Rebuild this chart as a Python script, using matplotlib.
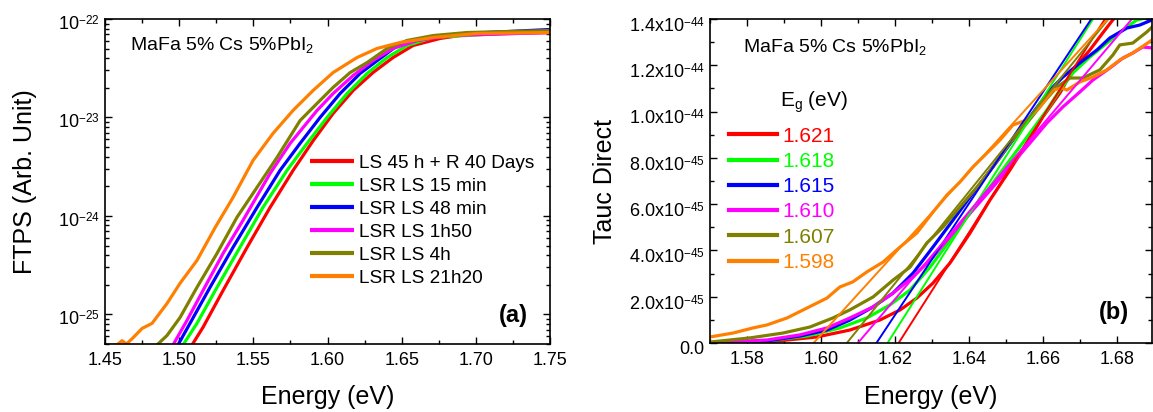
import numpy as np
import matplotlib
matplotlib.use("Agg")
import matplotlib.pyplot as plt
import matplotlib.transforms as mtransforms
from matplotlib.ticker import FuncFormatter, MultipleLocator, LogLocator, NullFormatter, FixedLocator

plt.rcParams['font.family'] = ['Liberation Sans', 'DejaVu Sans']
plt.rcParams['mathtext.fontset'] = 'custom'
plt.rcParams['mathtext.rm'] = 'Liberation Sans'
plt.rcParams['mathtext.it'] = 'Liberation Sans:italic'
plt.rcParams['mathtext.bf'] = 'Liberation Sans:bold'
try:  # smaller, lower superscripts (closer to the reference look)
    import matplotlib._mathtext as _mt
    _mt.FontConstantsBase.sup1 = 0.5
    _mt.SHRINK_FACTOR = 0.65
except Exception:
    pass

# ---------------- data: panel (a) FTPS ----------------
labels_a = ["LS 45 h + R 40 Days", "LSR LS 15 min", "LSR LS 48 min",
            "LSR LS 1h50", "LSR LS 4h", "LSR LS 21h20"]
colors = ["#FF0000", "#00FF00", "#0000FF", "#FF00FF", "#808000", "#FF8000"]

e_red_a = [1.5087, 1.5161, 1.5296, 1.5458, 1.5613, 1.5768, 1.5903, 1.6038, 1.6173,
           1.6307, 1.6442, 1.6577, 1.6759, 1.6941, 1.75]
ftps_red = [4.9e-26, 7.4e-26, 1.75e-25, 4.8e-25, 1.22e-24, 2.9e-24, 5.8e-24, 1.10e-23,
            1.88e-23, 2.86e-23, 4.06e-23, 5.38e-23, 6.34e-23, 6.97e-23, 7.29e-23]

e_green_a = [1.5026, 1.512, 1.5255, 1.541, 1.5565, 1.5727, 1.5862, 1.5997, 1.6132,
             1.6267, 1.6402, 1.6536, 1.6712, 1.75]
ftps_green = [4.9e-26, 8.1e-26, 1.88e-25, 4.8e-25, 1.22e-24, 2.9e-24, 5.45e-24, 1.0e-23,
              1.75e-23, 2.8e-23, 4.06e-23, 5.38e-23, 6.49e-23, 7.64e-23]

e_blue_a = [1.4992, 1.5073, 1.5208, 1.5363, 1.5525, 1.568, 1.5815, 1.595, 1.6085,
            1.622, 1.6354, 1.6489, 1.6712, 1.6941, 1.75]
ftps_blue = [4.9e-26, 8.1e-26, 1.88e-25, 4.79e-25, 1.22e-24, 2.9e-24, 5.45e-24, 1.0e-23,
             1.75e-23, 2.8e-23, 3.97e-23, 5.64e-23, 6.49e-23, 7.13e-23, 7.82e-23]

e_magenta_a = [1.4959, 1.5053, 1.5161, 1.5296, 1.543, 1.5613, 1.5748, 1.593, 1.6038,
               1.6173, 1.6307, 1.6442, 1.6604, 1.6826, 1.75]
ftps_magenta = [4.9e-26, 8.7e-26, 1.75e-25, 4.16e-25, 9.0e-25, 2.7e-24, 5.45e-24, 1.18e-23,
                1.75e-23, 2.67e-23, 3.79e-23, 5.02e-23, 6.05e-23, 6.79e-23, 7.29e-23]

e_olive_a = [1.4851, 1.4918, 1.5006, 1.512, 1.5255, 1.539, 1.5525, 1.566, 1.5815, 1.593,
             1.6038, 1.6153, 1.6267, 1.6402, 1.6536, 1.6712, 1.6941, 1.75]
ftps_olive = [4.9e-26, 6.1e-26, 9.3e-26, 1.88e-25, 4.16e-25, 9.7e-25, 1.95e-24, 3.93e-24,
              9.3e-24, 1.39e-23, 2.02e-23, 2.86e-23, 3.61e-23, 5.02e-23, 6.05e-23, 6.79e-23,
              7.29e-23, 7.64e-23]

e_orange_a = [1.45, 1.458, 1.4615, 1.4645, 1.469, 1.475, 1.4817, 1.4918, 1.5006, 1.512,
              1.5242, 1.5363, 1.5498, 1.5633, 1.5768, 1.5903, 1.6038, 1.6199, 1.6334,
              1.6489, 1.6712, 1.7008, 1.75]
ftps_orange = [4.9e-26, 4.9e-26, 5.4e-26, 5.0e-26, 5.8e-26, 7.2e-26, 8.1e-26, 1.29e-25,
               2.07e-25, 3.53e-25, 7.6e-25, 1.54e-24, 3.66e-24, 6.9e-24, 1.18e-23, 1.88e-23,
               2.86e-23, 4.06e-23, 5.02e-23, 5.77e-23, 6.49e-23, 7.13e-23, 7.29e-23]

energies_a = [e_red_a, e_green_a, e_blue_a, e_magenta_a, e_olive_a, e_orange_a]
ftps_all = [ftps_red, ftps_green, ftps_blue, ftps_magenta, ftps_olive, ftps_orange]
ftps_ticks = [1e-25, 1e-24, 1e-23, 1e-22]

# ---------------- data: panel (b) Tauc (values in units of 1e-45) ----------------
eg_labels = ["1.621", "1.618", "1.615", "1.610", "1.607", "1.598"]
eg_values = [1.621, 1.618, 1.615, 1.610, 1.607, 1.598]
fit_slopes = [251, 252, 241, 189, 198, 176]   # 1e-45 per eV

e_red_b = [1.57, 1.5854, 1.5989, 1.6078, 1.6159, 1.6214, 1.6259, 1.6303, 1.6349, 1.6403,
           1.6457, 1.6511, 1.6557, 1.66, 1.6646, 1.6681, 1.6727, 1.6762, 1.6789, 1.683]
tauc_red = [0, 0.04, 0.26, 0.56, 0.99, 1.43, 1.94, 2.59, 3.46, 4.75, 6.18, 7.48, 8.64,
            9.77, 10.80, 11.80, 12.66, 13.40, 13.96, 14.6]

e_green_b = [1.57, 1.5854, 1.5962, 1.6051, 1.6124, 1.6186, 1.6241, 1.6295, 1.6349, 1.6403,
             1.6457, 1.6511, 1.6565, 1.6611, 1.6646, 1.6681, 1.6727, 1.6773, 1.6816,
             1.6854, 1.6895]
tauc_green = [0, 0.09, 0.30, 0.65, 1.08, 1.64, 2.29, 3.28, 4.45, 5.62, 6.74, 7.91, 9.07,
              10.07, 10.93, 11.67, 12.36, 12.96, 13.52, 13.96, 14.1]

e_blue_b = [1.57, 1.5854, 1.5943, 1.6016, 1.6078, 1.6141, 1.6195, 1.6249, 1.6303, 1.6357,
            1.6411, 1.6465, 1.6519, 1.6573, 1.6619, 1.6654, 1.67, 1.6746, 1.6781, 1.6827,
            1.6862, 1.6895]
tauc_blue = [0, 0.09, 0.30, 0.56, 0.99, 1.56, 2.16, 3.02, 4.15, 5.31, 6.48, 7.61, 8.77,
             9.94, 10.93, 11.49, 12.10, 12.66, 13.18, 13.61, 13.74, 13.96]

e_magenta_b = [1.57, 1.5854, 1.5943, 1.6016, 1.6078, 1.6141, 1.6195, 1.6249, 1.6303,
               1.6357, 1.6411, 1.6465, 1.6519, 1.6565, 1.6611, 1.6654, 1.67, 1.6735,
               1.6781, 1.6816, 1.6843, 1.687, 1.6895]
tauc_magenta = [0, 0.13, 0.35, 0.65, 1.08, 1.56, 2.16, 2.85, 3.72, 4.75, 5.75, 6.74, 7.78,
                8.64, 9.51, 10.20, 10.85, 11.36, 11.88, 12.31, 12.53, 12.79, 12.75]

e_olive_b = [1.57, 1.5808, 1.5897, 1.597, 1.6032, 1.6078, 1.6141, 1.6195, 1.6241, 1.6286,
             1.633, 1.6376, 1.6422, 1.6465, 1.6511, 1.6557, 1.66, 1.6638, 1.6673, 1.6708,
             1.6754, 1.6789, 1.6808, 1.6843, 1.6881, 1.6895]
tauc_olive = [0.04, 0.22, 0.43, 0.69, 1.08, 1.43, 1.99, 2.72, 3.28, 4.32, 5.01, 5.88, 6.74,
              7.61, 8.64, 9.51, 10.37, 11.06, 11.45, 11.45, 11.80, 12.44, 12.88, 12.96,
              13.44, 13.65]

e_orange_b = [1.57, 1.5762, 1.5816, 1.5854, 1.5908, 1.5962, 1.6016, 1.6051, 1.6086, 1.6124,
              1.6168, 1.6214, 1.6259, 1.6303, 1.6341, 1.6376, 1.6411, 1.6449, 1.6484,
              1.6519, 1.6557, 1.6592, 1.6627, 1.6651, 1.6665, 1.67, 1.6735, 1.6773,
              1.6808, 1.6843, 1.6895]
tauc_orange = [0.26, 0.43, 0.65, 0.78, 1.08, 1.51, 1.94, 2.42, 2.64, 3.07, 3.50, 4.15, 4.75,
               5.66, 6.40, 6.96, 7.61, 8.21, 8.77, 9.42, 9.64, 10.20, 10.93, 11.02, 10.93,
               11.28, 11.49, 11.80, 12.23, 12.53, 13.09]

energies_b = [e_red_b, e_green_b, e_blue_b, e_magenta_b, e_olive_b, e_orange_b]
tauc_all = [tauc_red, tauc_green, tauc_blue, tauc_magenta, tauc_olive, tauc_orange]
TAUC_UNIT = 1e-45

# ---------------- figure ----------------
W, H = 1153, 412
fig = plt.figure(figsize=(W / 100, H / 100), dpi=100)
ax1 = fig.add_axes([105 / W, (H - 344) / H, 445 / W, 325 / H])
ax2 = fig.add_axes([710 / W, (H - 343) / H, 442 / W, 324 / H])

TICK_FS = 13
LABEL_FS = 18

# ---- panel (a) ----
for e, v, c, lab in zip(energies_a, ftps_all, colors, labels_a):
    ax1.plot(e, v, color=c, lw=2.3, label=lab, solid_capstyle='butt')
ax1.set_yscale('log')
ax1.set_xlim(1.45, 1.75)
ax1.set_ylim(5e-26, 1e-22)
ax1.xaxis.set_major_locator(MultipleLocator(0.05))
ax1.xaxis.set_minor_locator(MultipleLocator(0.025))
ax1.xaxis.set_major_formatter(FuncFormatter(lambda x, p: f"{x:.2f}"))
ax1.yaxis.set_major_locator(FixedLocator(ftps_ticks))
ax1.yaxis.set_minor_locator(LogLocator(base=10, subs=np.arange(2, 10), numticks=20))
ax1.yaxis.set_minor_formatter(NullFormatter())
ax1.yaxis.set_major_formatter(FuncFormatter(
    lambda y, p: r"$\mathregular{10^{%d}}$" % int(round(np.log10(y)))))
ax1.set_xlabel("Energy (eV)", fontsize=LABEL_FS, va='center')
ax1.xaxis.set_label_coords(0.5, (344 - 397) / 325)
ax1.set_ylabel("FTPS (Arb. Unit)", fontsize=LABEL_FS, va='center')
ax1.yaxis.set_label_coords((25 - 105) / 445, 0.5)
leg1 = ax1.legend(loc='upper left', bbox_to_anchor=(0.461, 0.584), frameon=False,
                  fontsize=13.7, handlelength=2.3, handletextpad=0.28,
                  labelspacing=0.3, borderpad=0, borderaxespad=0)
for line in leg1.get_lines():
    line.set_linewidth(3)
ax1.text(0.056, 0.92, r"MaFa 5% Cs 5%PbI$_\mathregular{2}$", transform=ax1.transAxes,
         fontsize=14, va='center', ha='left')
ax1.text(0.917, 0.089, "(a)", transform=ax1.transAxes, fontsize=17,
         fontweight='bold', ha='center', va='center')

# ---- panel (b) ----
curve_handles = []
for e, v, c in zip(energies_b, tauc_all, colors):
    h, = ax2.plot(e, np.array(v) * TAUC_UNIT, color=c, lw=2.3)
    curve_handles.append(h)
for eg, s, c in zip(eg_values, fit_slopes, colors):
    e_end = eg + 14.6 / s
    ax2.plot([eg, e_end], [0, s * (e_end - eg) * TAUC_UNIT], color=c, lw=1.4)
ax2.set_xlim(1.57, 1.6895)
ax2.set_ylim(0, 1.4e-44)
ax2.xaxis.set_major_locator(MultipleLocator(0.02))
ax2.xaxis.set_minor_locator(MultipleLocator(0.01))
ax2.xaxis.set_major_formatter(FuncFormatter(lambda x, p: f"{x:.2f}"))
ax2.yaxis.set_major_locator(MultipleLocator(2e-45))
ax2.yaxis.set_minor_locator(MultipleLocator(1e-45))


def tauc_fmt(y, p):
    if abs(y) < 1e-50:
        return "0.0"
    ex = int(np.floor(np.log10(abs(y)) + 1e-9))
    m = y / 10 ** ex
    return r"$\mathregular{%.1fx10^{%d}}$" % (m, ex)


ax2.yaxis.set_major_formatter(FuncFormatter(tauc_fmt))
ax2.set_xlabel("Energy (eV)", fontsize=LABEL_FS, va='center')
ax2.xaxis.set_label_coords(0.5, (343 - 397) / 324)
ax2.set_ylabel("Tauc Direct", fontsize=LABEL_FS, va='center')
ax2.yaxis.set_label_coords((605 - 710) / 442, 0.5)
leg2 = ax2.legend(curve_handles, eg_labels, loc='upper left',
                  bbox_to_anchor=(0.043, 0.668), frameon=False, fontsize=15,
                  handlelength=2.3, handletextpad=0.24, labelspacing=0.3,
                  borderpad=0, borderaxespad=0, labelcolor='linecolor')
for line in leg2.get_lines():
    line.set_linewidth(3)
ax2.text(0.158, 0.744, r"E$_\mathregular{g}$ (eV)", transform=ax2.transAxes,
         fontsize=15, va='center', ha='left')
ax2.text(0.075, 0.914, r"MaFa 5% Cs 5%PbI$_\mathregular{2}$", transform=ax2.transAxes,
         fontsize=14, va='center', ha='left')
ax2.text(0.914, 0.093, "(b)", transform=ax2.transAxes, fontsize=17,
         fontweight='bold', ha='center', va='center')

for ax in (ax1, ax2):
    ax.tick_params(which='both', direction='in', top=True, right=True,
                   labelsize=TICK_FS)
    ax.tick_params(which='major', length=5, width=1)
    ax.tick_params(which='minor', length=3, width=1)
    ax.tick_params(axis='x', which='both', pad=6)
    ax.tick_params(axis='y', which='both', pad=4)
    for sp in ax.spines.values():
        sp.set_linewidth(1.2)

# nudge y tick labels slightly down so the superscripts stay inside the figure
for ax, dy in ((ax1, 3), (ax2, 5)):
    shift = mtransforms.ScaledTranslation(0, -dy / 100, fig.dpi_scale_trans)
    for lbl in ax.get_yticklabels():
        lbl.set_transform(lbl.get_transform() + shift)

fig.savefig("out.png", dpi=100)
